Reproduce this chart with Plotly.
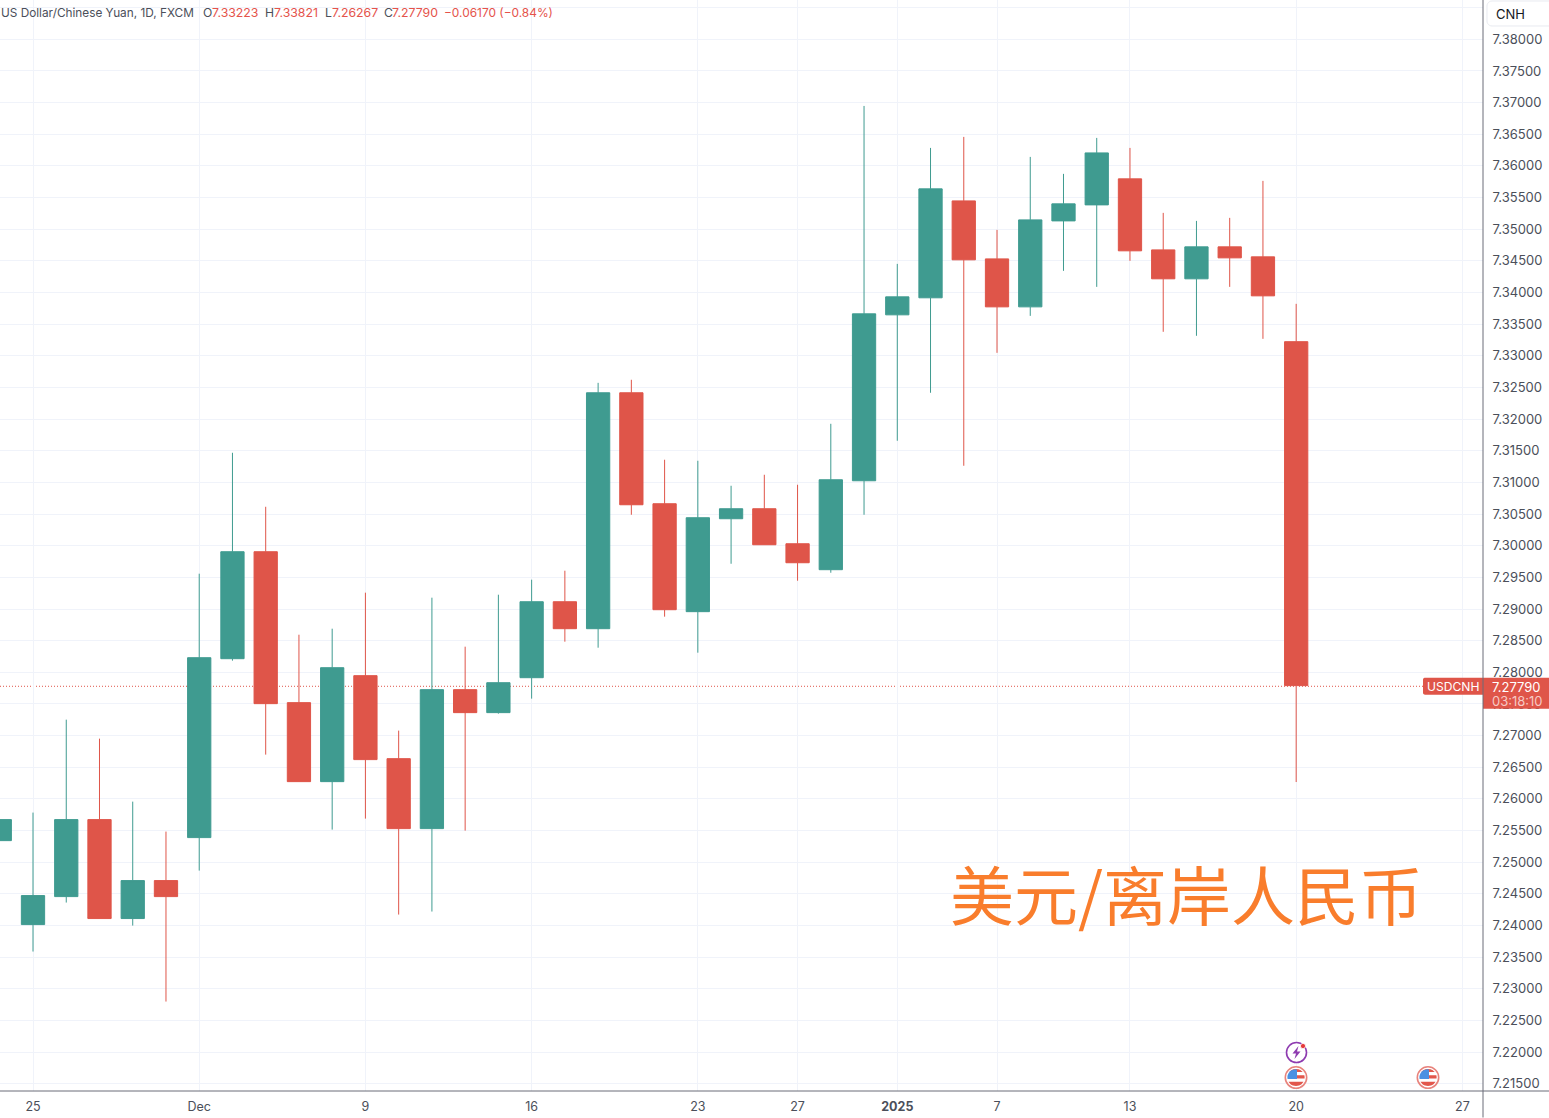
import math
import plotly.graph_objects as go

# ---- data ----
dates = ["Nov 22","Nov 25","Nov 26","Nov 27","Nov 28","Nov 29",
         "Dec 2","Dec 3","Dec 4","Dec 5","Dec 6","Dec 9","Dec 10","Dec 11","Dec 12","Dec 13",
         "Dec 16","Dec 17","Dec 18","Dec 19","Dec 20","Dec 23","Dec 24","Dec 26","Dec 27",
         "Dec 30","Dec 31","Jan 2","Jan 3","Jan 6","Jan 7","Jan 8","Jan 9","Jan 10",
         "Jan 13","Jan 14","Jan 15","Jan 16","Jan 17","Jan 20"]
opens = [7.25341,7.24015,7.24457,7.25673,7.24110,7.24710,
         7.25389,7.28215,7.29905,7.27521,7.26273,7.27947,7.26636,7.25531,7.27726,7.27363,
         7.27915,7.29115,7.28689,7.32416,7.30663,7.28958,7.30426,7.30584,7.30031,
         7.29621,7.31026,7.33647,7.33916,7.35447,7.34531,7.33773,7.35131,7.35384,
         7.35795,7.34673,7.34216,7.34721,7.34563,7.33223]
highs = [7.25673,7.25784,7.27252,7.26952,7.25957,7.25484,
         7.29558,7.31468,7.30615,7.28594,7.28689,7.29258,7.27079,7.29179,7.28405,7.29226,
         7.29463,7.29605,7.32573,7.32621,7.31358,7.31342,7.30947,7.31121,7.30963,
         7.31926,7.36947,7.34452,7.36284,7.36458,7.34989,7.36142,7.35874,7.36442,
         7.36284,7.35258,7.35131,7.35179,7.35763,7.33821]
lows = [7.25341,7.23589,7.24363,7.24110,7.23999,7.22799,
        7.24868,7.28184,7.26700,7.26273,7.25515,7.25689,7.24173,7.24221,7.25499,7.27347,
        7.27584,7.28484,7.28389,7.30489,7.28879,7.28310,7.29715,7.30015,7.29447,
        7.29573,7.30489,7.31658,7.32416,7.31263,7.33047,7.33631,7.34342,7.34089,
        7.34500,7.33379,7.33316,7.34089,7.33268,7.26267]
closes = [7.25673,7.24473,7.25673,7.24110,7.24710,7.24457,
          7.28231,7.29905,7.27505,7.26273,7.28073,7.26621,7.25531,7.27726,7.27363,7.27836,
          7.29115,7.28689,7.32416,7.30647,7.28989,7.30442,7.30584,7.30015,7.29731,
          7.31042,7.33663,7.33931,7.35637,7.34516,7.33773,7.35147,7.35400,7.36205,
          7.34658,7.34216,7.34721,7.34547,7.33947,7.27790]
x_tick_labels = ["25","Dec","9","16","23","27","<b>2025</b>","7","13","20","27"]
x_tick_slots = [1,6,11,16,21,24,27,30,34,39,44]
y_tick_values = [7.215,7.22,7.225,7.23,7.235,7.24,7.245,7.25,7.255,7.26,7.265,7.27,7.275,7.28,
                 7.285,7.29,7.295,7.30,7.305,7.31,7.315,7.32,7.325,7.33,7.335,7.34,7.345,
                 7.35,7.355,7.36,7.365,7.37,7.375,7.38,7.385]
last_price = 7.27790

UP = "#3f9b90"; DOWN = "#df5549"; GRID = "#f0f3fa"; TXT = "#4b4f5a"; AXIS = "#6a6d78"
FONT = "Inter, Roboto, sans-serif"
W, H, PW, PH = 1549, 1118, 1483, 1091.5

def px(x): return x / PW
def py(y): return 1 - y / PH

slots = list(range(len(dates)))
fig = go.Figure(go.Candlestick(
    x=slots, open=opens, high=highs, low=lows, close=closes,
    increasing=dict(line=dict(color=UP, width=1), fillcolor=UP),
    decreasing=dict(line=dict(color=DOWN, width=1), fillcolor=DOWN),
    whiskerwidth=0, hoverinfo="skip", showlegend=False))

shapes, annos = [], []

def rect(x0, y0, x1, y1, fill, line=None, lw=0, layer="above"):
    shapes.append(dict(type="rect", xref="paper", yref="paper", x0=px(x0), x1=px(x1), y0=py(y0), y1=py(y1),
                       fillcolor=fill, line=dict(color=line or fill, width=lw), layer=layer))

def segment(x0, y0, x1, y1, color, lw=1, dash="solid", layer="above"):
    shapes.append(dict(type="line", xref="paper", yref="paper", x0=px(x0), x1=px(x1), y0=py(y0), y1=py(y1),
                       line=dict(color=color, width=lw, dash=dash), layer=layer))

def circle(cx, cy, r, fill, line=None, lw=0):
    shapes.append(dict(type="circle", xref="paper", yref="paper", x0=px(cx-r), x1=px(cx+r), y0=py(cy-r), y1=py(cy+r),
                       fillcolor=fill, line=dict(color=line or fill, width=lw)))

def poly(points, fill):
    d = "M" + " L".join(f"{px(a):.6f},{py(b):.6f}" for a, b in points) + " Z"
    shapes.append(dict(type="path", xref="paper", yref="paper", path=d, fillcolor=fill, line=dict(width=0)))

def rounded(x0, y0, x1, y1, rl, rr, fill, line=None, lw=0):
    pts = []
    for cx, cy, r, a0 in [(x1-rr, y0+rr, rr, -90), (x1-rr, y1-rr, rr, 0), (x0+rl, y1-rl, rl, 90), (x0+rl, y0+rl, rl, 180)]:
        for k in range(7):
            a = math.radians(a0 + 15*k)
            pts.append((cx + r*math.cos(a), cy + r*math.sin(a)))
    d = "M" + " L".join(f"{px(a):.6f},{py(b):.6f}" for a, b in pts) + " Z"
    shapes.append(dict(type="path", xref="paper", yref="paper", path=d, fillcolor=fill,
                       line=dict(color=line or fill, width=lw)))

def band(cx, cy, r, y0, y1, x0, x1, fill):
    right, left = [], []
    n = 8
    for k in range(n + 1):
        y = y0 + (y1 - y0) * k / n
        half = math.sqrt(max(r*r - (y - cy)**2, 0))
        right.append((min(x1, cx + half), y))
        left.append((max(x0, cx - half), y))
    poly(right + left[::-1], fill)

def flag(cx, cy):
    circle(cx, cy, 10.7, "#ffffff", "#e8837c", 1.6)
    r = 8.6
    circle(cx, cy, r, "#ffffff", "#ffffff", 0)
    band(cx, cy, r, cy-r, cy-5.4, cx-r, cx+r, "#e2574c")
    band(cx, cy, r, cy-2.2, cy+1, cx+1, cx+r, "#e2574c")
    band(cx, cy, r, cy+4.2, cy+r, cx-r, cx+r, "#e2574c")
    band(cx, cy, r, cy-r, cy+1.6, cx-r, cx+1, "#4a90e2")

def text(x, y, s, color=TXT, size=13, anchor="left", font=FONT):
    annos.append(dict(xref="paper", yref="paper", x=px(x), y=py(y), text=s, showarrow=False,
                      xanchor=anchor, yanchor="middle", align=anchor, borderpad=0, borderwidth=0,
                      font=dict(family=font, size=size, color=color)))

# price line and its labels
segment(0, 686.6, 1423, 686.6, DOWN, 1, "1px,2px", layer="below")
rounded(1423, 678, 1483, 695, 2, 0.1, DOWN)
rect(1483, 678, 1549, 709, DOWN)
text(1427, 687, "USDCNH", "#ffffff", 12.1)
text(1492, 687, f"{last_price:.5f}", "#ffffff", 13)
text(1492, 701, "03:18:10", "#f6c9c5", 13)

# axis borders
segment(1483, 0, 1483, 1118, AXIS, 1)
segment(0, 1091.5, 1549, 1091.5, AXIS, 1)

# currency box
rounded(1487, 1, 1560, 26, 5, 5, "#ffffff", "#e8eaf0", 1)
text(1496, 14, "CNH", "#131722", 13)

# event icons
circle(1296.5, 1053, 10, "#ffffff", "#8e3bb0", 1.6)
poly([(1298.5,1046.5),(1292.5,1054),(1296,1054),(1294.5,1059.5),(1300.5,1052),(1297,1052)], "#8e3bb0")
circle(1303, 1046.5, 2.6, "#e5393b", "#ffffff", 0.8)
flag(1296, 1078)
flag(1428, 1078)

# header
text(1, 13, "US Dollar/Chinese Yuan, 1D, FXCM", TXT, 11.8)
RED = "#e5534b"
for lx, lab, vx, val in [(203,"O",212,"7.33223"),(265,"H",274,"7.33821"),(324.5,"L",332,"7.26267"),(384,"C",391.5,"7.27790")]:
    text(lx, 13, lab, TXT, 12.2)
    text(vx, 13, val, RED, 12.3)
text(444, 13, "\u22120.06170 (\u22120.84%)", RED, 11.9)

# large title
text(950, 892, "美元/离岸人民币", "#f97d2c", 64, font="Noto Sans CJK SC")

fig.update_layout(
    width=W, height=H, autosize=False,
    margin=dict(l=0, r=W-PW, t=0, b=H-PH, pad=0),
    paper_bgcolor="#ffffff", plot_bgcolor="#ffffff",
    boxgap=0, showlegend=False, dragmode=False,
    shapes=shapes, annotations=annos,
    font=dict(family=FONT, size=13, color=TXT),
    xaxis=dict(range=[0.007, 44.62], rangeslider=dict(visible=False), tickmode="array",
               tickvals=x_tick_slots, ticktext=x_tick_labels, showgrid=True, gridcolor=GRID, gridwidth=1,
               zeroline=False, showline=False, ticks="outside", ticklen=4, tickcolor="rgba(0,0,0,0)",
               tickfont=dict(size=12.5, color=TXT, family=FONT), fixedrange=True),
    yaxis=dict(range=[7.21386, 7.386206], side="right", tickmode="array",
               tickvals=y_tick_values,
               ticktext=[f"{v:.5f}" if v < 7.384 else "" for v in y_tick_values],
               showgrid=True, gridcolor=GRID, gridwidth=1, zeroline=False, showline=False,
               ticks="outside", ticklen=6, tickcolor="rgba(0,0,0,0)",
               tickfont=dict(size=13, color=TXT, family=FONT), fixedrange=True),
)

fig.write_html("out.html", config=dict(displayModeBar=False),
               post_script="document.body.style.margin='0';")
